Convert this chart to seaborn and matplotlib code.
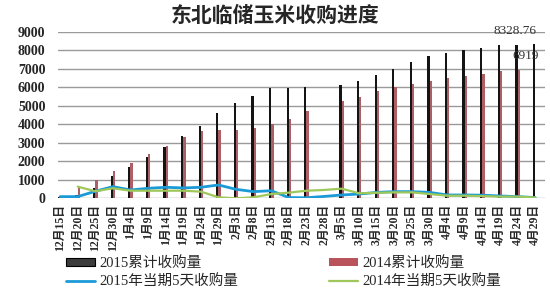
import numpy as np
import pandas as pd
import matplotlib
matplotlib.use("Agg")
import matplotlib.pyplot as plt
from matplotlib.patches import Patch
from matplotlib.lines import Line2D
import seaborn as sns

# ---------------- data ----------------
dates = ["12月15日", "12月20日", "12月25日", "12月30日", "1月4日", "1月9日", "1月14日",
         "1月19日", "1月24日", "1月29日", "2月3日", "2月8日", "2月13日", "2月18日",
         "2月23日", "2月28日", "3月5日", "3月10日", "3月15日", "3月20日", "3月25日",
         "3月30日", "4月4日", "4月9日", "4月14日", "4月19日", "4月24日", "4月29日"]
nan = np.nan
cum2015 = [90, 180, 560, 1220, 1710, 2250, 2790, 3370, 3925, 4630, 5150, 5520, 5960, 5980,
           6000, nan, 6130, 6340, 6650, 7000, 7340, 7700, 7830, 8020, 8140, 8260, 8300, 8328.76]
cum2014 = [nan, 630, 990, 1475, 1925, 2395, 2830, 3330, 3655, 3710, 3710, 3780, 3990, 4305,
           4700, nan, 5230, 5470, 5775, 6000, 6180, 6360, 6490, 6610, 6700, 6850, 6919, nan]
d2015 = [90, 90, 380, 630, 450, 540, 595, 560, 595, 720, 485, 360, 410, 40, 30, 100, 180,
         230, 320, 360, 360, 320, 180, 180, 170, 125, 90, 40]
d2014 = [nan, 630, 380, 540, 410, 410, 410, 410, 360, 55, 0, 55, 230, 305, 410, 450, 520,
         270, 300, 320, 320, 230, 140, 140, 120, 90, 90, 40]

title = "东北临储玉米收购进度"
bar_names = ["2015累计收购量", "2014累计收购量"]
line_names = ["2015年当期5天收购量", "2014年当期5天收购量"]
yticks = [0, 1000, 2000, 3000, 4000, 5000, 6000, 7000, 8000, 9000]

bar_colors = {"2015累计收购量": "#141414", "2014累计收购量": "#b9535c"}
line_colors = {"2015年当期5天收购量": "#1b9ad8", "2014年当期5天收购量": "#9ec85a"}

# ---------------- frames ----------------
n = len(dates)
bars_df = pd.DataFrame({
    "date": dates * 2,
    "series": [bar_names[0]] * n + [bar_names[1]] * n,
    "value": cum2015 + cum2014,
})
lines_df = pd.DataFrame({
    "pos": list(range(n)) * 2,
    "series": [line_names[0]] * n + [line_names[1]] * n,
    "value": d2015 + d2014,
})

# ---------------- style ----------------
sns.set_theme(style="white")
plt.rcParams["font.family"] = ["Liberation Serif", "Noto Sans CJK SC", "DejaVu Sans"]

fig = plt.figure(figsize=(5.5, 3.0), dpi=100)
ax = fig.add_axes([58 / 550, 1 - 198.3 / 300, (545 - 58) / 550, (198.3 - 31.7) / 300])

sns.barplot(data=bars_df, x="date", y="value", hue="series", order=dates,
            hue_order=bar_names, palette=bar_colors, width=0.26, dodge=True,
            errorbar=None, linewidth=0, ax=ax, legend=False, zorder=2)

sns.lineplot(data=lines_df, x="pos", y="value", hue="series", hue_order=line_names,
             palette=line_colors, ax=ax, legend=False, sort=False, zorder=3)
for ln, lw in zip(ax.lines, [2.0, 1.6]):
    ln.set_linewidth(lw)


def bar_at(container, idx):
    for bb in container:
        if round(bb.get_x() + bb.get_width() / 2) == idx:
            return bb
    return None


# annotations on last bars
b = bar_at(ax.containers[0], n - 1)
if b is not None:
    ax.annotate(f"{cum2015[-1]:g}", (b.get_x() + b.get_width(), b.get_height()),
                xytext=(1, 5), textcoords="offset points", ha="right", va="bottom",
                fontsize=9.5, color="#333333", family="Liberation Serif")
b = bar_at(ax.containers[1], n - 2)
if b is not None:
    ax.annotate(f"{cum2014[-2]:g}", (b.get_x(), b.get_height()),
                xytext=(-4, 6), textcoords="offset points", ha="left", va="bottom",
                fontsize=9.5, color="#333333", family="Liberation Serif")

# axes
ax.set_ylim(0, 9000)
ax.set_xlim(-0.12, 27.56)
ax.set_yticks(yticks)
ax.set_yticklabels([str(t) for t in yticks], fontsize=10, fontweight="bold",
                   family="Liberation Serif")
ax.set_xticks(range(n))
ax.set_xticklabels(dates, rotation=90, fontsize=8.5, fontweight="bold")
ax.tick_params(axis="both", length=0)
ax.tick_params(axis="y", pad=9)
ax.tick_params(axis="x", pad=4)
ax.set_xlabel("")
ax.set_ylabel("")
ax.yaxis.grid(True, color="#9a9a9a", linewidth=1.0, zorder=0)
ax.set_axisbelow(True)
for s in ax.spines.values():
    s.set_visible(False)

fig.text(275 / 550, 1 - 15 / 300, title, ha="center", va="center", fontsize=15,
         fontweight="bold", family=["Noto Sans CJK SC"])

handles = [
    Patch(facecolor="#3c3c3c", edgecolor="#000000", linewidth=0.8),
    Line2D([0], [0], color=line_colors[line_names[0]], lw=2.0),
    Patch(facecolor=bar_colors[bar_names[1]], edgecolor="none"),
    Line2D([0], [0], color=line_colors[line_names[1]], lw=1.6),
]
labels = [bar_names[0], line_names[0], bar_names[1], line_names[1]]
fig.legend(handles, labels, ncol=2, loc="upper left",
           bbox_to_anchor=(66 / 550, 1 - 256 / 300), frameon=False,
           prop={"family": ["Liberation Serif", "Noto Sans CJK SC"], "size": 10.5},
           handlelength=2.0, handleheight=0.5, handletextpad=0.3,
           columnspacing=6.2, labelspacing=0.3, borderaxespad=0, borderpad=0)

fig.savefig("out.png", dpi=100)
